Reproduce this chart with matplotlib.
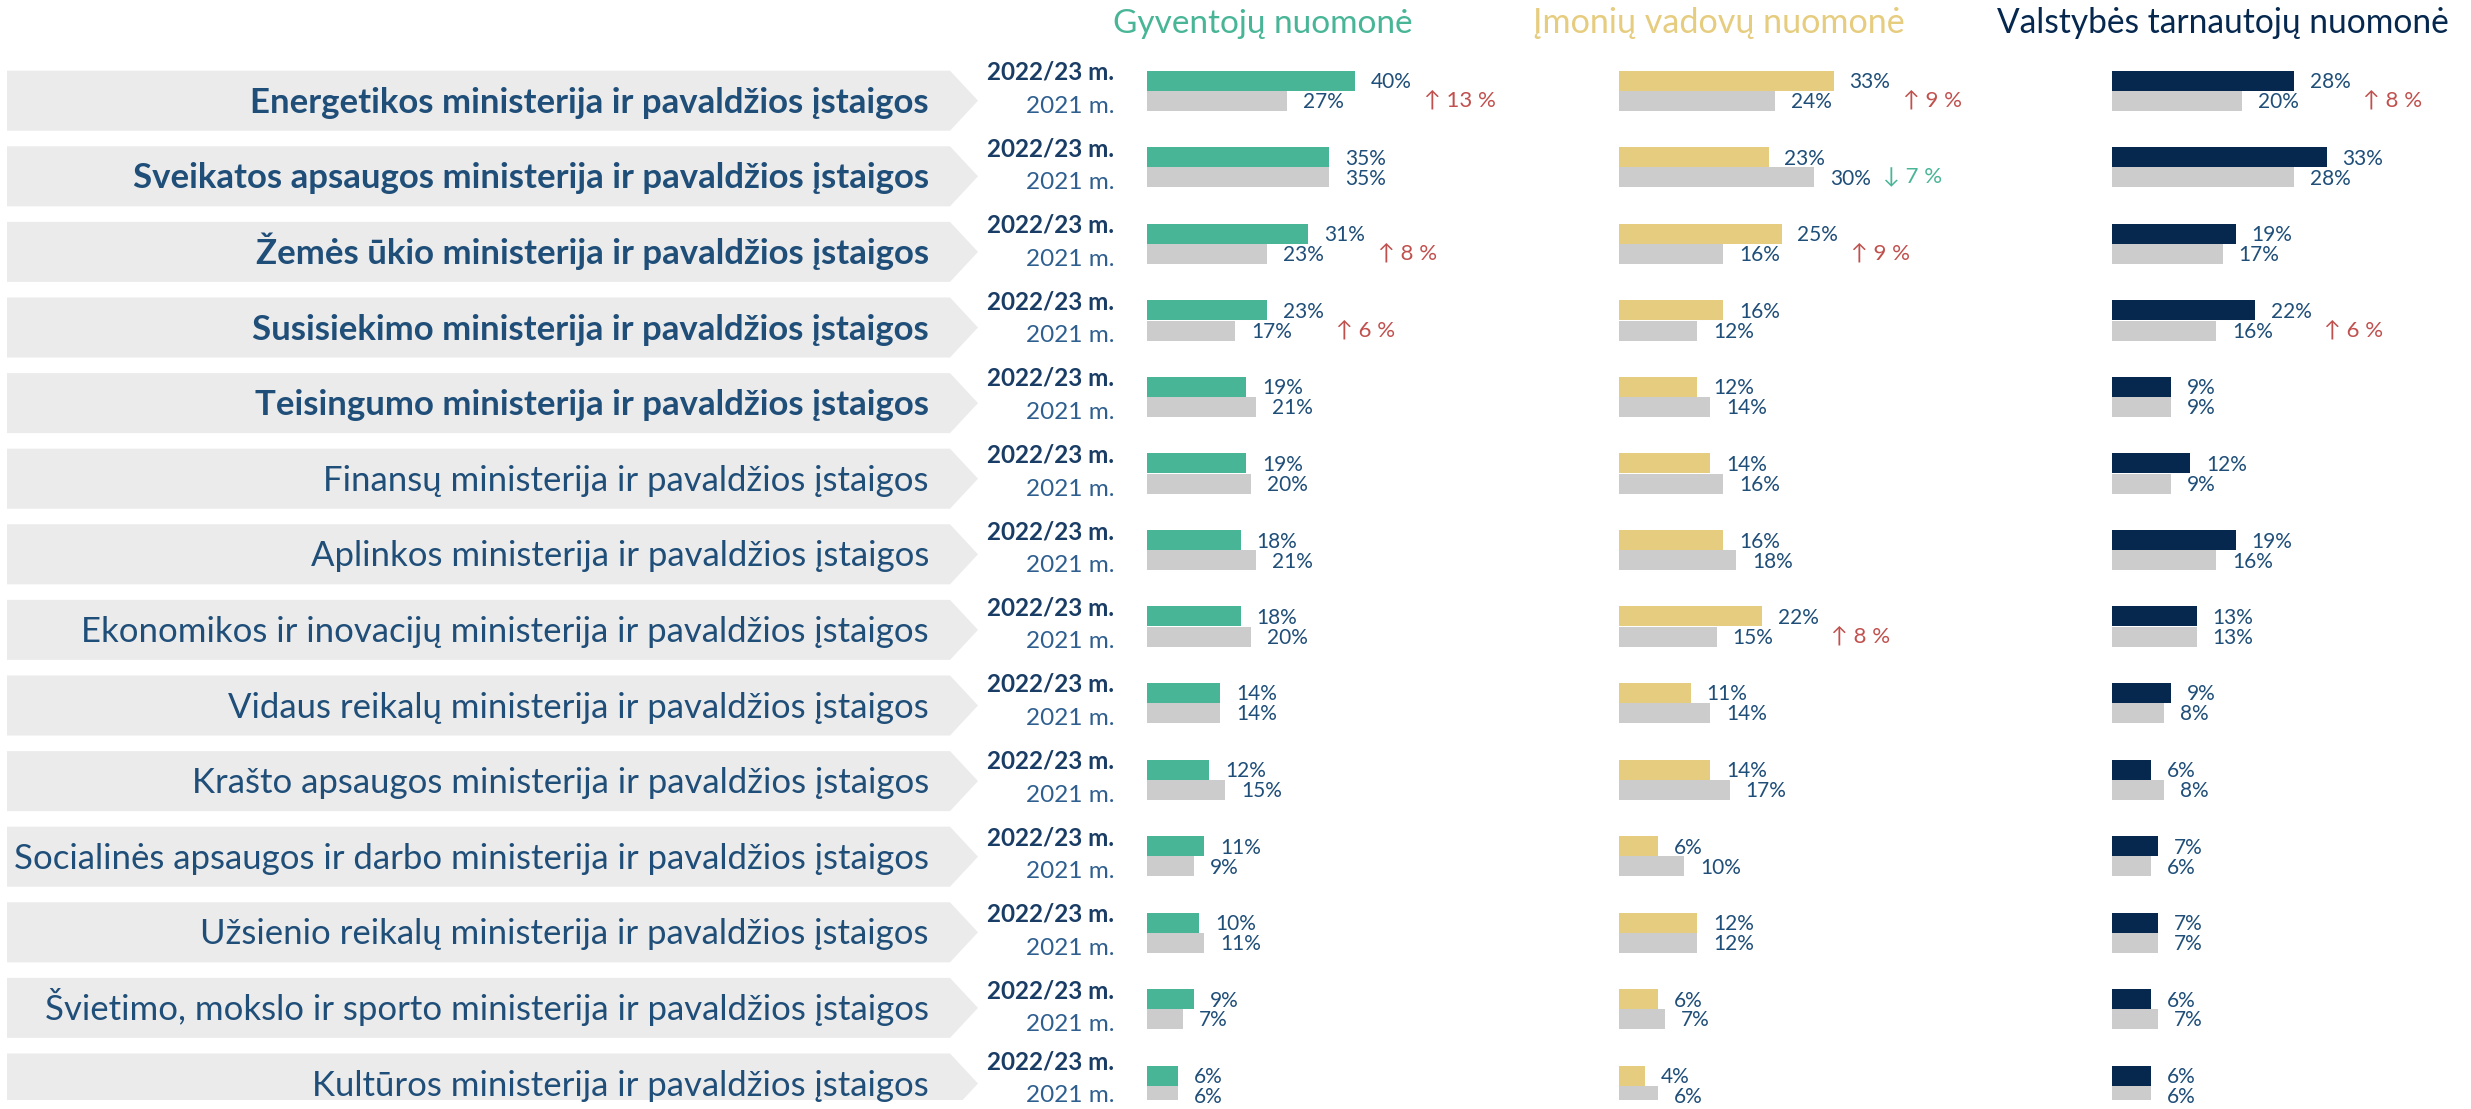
import matplotlib
matplotlib.use("Agg")
import matplotlib.pyplot as plt
from matplotlib.patches import Polygon
import numpy as np

plt.rcParams['font.family'] = ['Lato', 'DejaVu Sans']

# ---------------- data ----------------
categories = [
    "Energetikos ministerija ir pavaldžios įstaigos",
    "Sveikatos apsaugos ministerija ir pavaldžios įstaigos",
    "Žemės ūkio ministerija ir pavaldžios įstaigos",
    "Susisiekimo ministerija ir pavaldžios įstaigos",
    "Teisingumo ministerija ir pavaldžios įstaigos",
    "Finansų ministerija ir pavaldžios įstaigos",
    "Aplinkos ministerija ir pavaldžios įstaigos",
    "Ekonomikos ir inovacijų ministerija ir pavaldžios įstaigos",
    "Vidaus reikalų ministerija ir pavaldžios įstaigos",
    "Krašto apsaugos ministerija ir pavaldžios įstaigos",
    "Socialinės apsaugos ir darbo ministerija ir pavaldžios įstaigos",
    "Užsienio reikalų ministerija ir pavaldžios įstaigos",
    "Švietimo, mokslo ir sporto ministerija ir pavaldžios įstaigos",
    "Kultūros ministerija ir pavaldžios įstaigos",
]
bold_count = 5
year_labels = ["2022/23 m.", "2021 m."]
titles = ["Gyventojų nuomonė", "Įmonių vadovų nuomonė", "Valstybės tarnautojų nuomonė"]

gyv_2023 = [40, 35, 31, 23, 19, 19, 18, 18, 14, 12, 11, 10, 9, 6]
gyv_2021 = [27, 35, 23, 17, 21, 20, 21, 20, 14, 15, 9, 11, 7, 6]
imon_2023 = [33, 23, 25, 16, 12, 14, 16, 22, 11, 14, 6, 12, 6, 4]
imon_2021 = [24, 30, 16, 12, 14, 16, 18, 15, 14, 17, 10, 12, 7, 6]
vals_2023 = [28, 33, 19, 22, 9, 12, 19, 13, 9, 6, 7, 7, 6, 6]
vals_2021 = [20, 28, 17, 16, 9, 9, 16, 13, 8, 8, 6, 7, 7, 6]

change_gyv = {0: 13, 2: 8, 3: 6}
change_imon = {0: 9, 1: -7, 2: 9, 7: 8}
change_vals = {0: 8, 3: 6}

# ---------------- style ----------------
W, H = 2471, 1109
C_GREEN = "#48b596"
C_YELLOW = "#e6cc7e"
C_NAVY = "#06284f"
C_GRAY = "#cccccc"
C_BOX = "#ebebeb"
C_TEXT = "#1f4e79"
C_YEAR1 = "#1a3d66"
C_YEAR2 = "#2f5f8f"
C_UP = "#c0504d"

fig = plt.figure(figsize=(W / 100, H / 100), dpi=100)
renderer = fig.canvas.get_renderer()


def fit(t, target):
    w = t.get_window_extent(renderer).width
    t.set_fontsize(t.get_fontsize() * target / w)
    return t.get_fontsize()


# vertical mapping (pixels from top)
AX_TOP, AX_BOT = 40, 1100
BAR0, BAR_PITCH = 91, 76.5
BOX0, BOX_PITCH = 100.7, 75.6
n = len(categories)
rows = np.arange(n)
bh = 20 / BAR_PITCH

# ---------------- left label column ----------------
axl = fig.add_axes([0, 1 - AX_BOT / H, 1000 / W, (AX_BOT - AX_TOP) / H])
axl.set_xlim(0, 1000)
axl.set_ylim((AX_BOT - BOX0) / BOX_PITCH, (AX_TOP - BOX0) / BOX_PITCH)
axl.axis("off")
hh = 30 / BOX_PITCH
cat_texts = []
for j, name in enumerate(categories):
    poly = Polygon([(7, j - hh), (950, j - hh), (978, j), (950, j + hh), (7, j + hh)],
                   closed=True, facecolor=C_BOX, edgecolor="none")
    axl.add_patch(poly)
    t = axl.text(929, j + 12 / BOX_PITCH, name, ha="right", va="baseline",
                 fontsize=28, color=C_TEXT,
                 fontweight="bold" if j < bold_count else "normal")
    cat_texts.append(t)

fs_reg = fit(cat_texts[10], 914)
fs_bold = fit(cat_texts[1], 797)
for j, t in enumerate(cat_texts):
    t.set_fontsize(fs_bold if j < bold_count else fs_reg)

# ---------------- bar panels ----------------
panels = [
    (1147, 50, gyv_2023, gyv_2021, C_GREEN, change_gyv),
    (1619, 40, imon_2023, imon_2021, C_YELLOW, change_imon),
    (2112, 40, vals_2023, vals_2021, C_NAVY, change_vals),
]
axes = []
for left, xmax, v23, v21, col, changes in panels:
    ax = fig.add_axes([left / W, 1 - AX_BOT / H, 260 / W, (AX_BOT - AX_TOP) / H])
    ax.set_xlim(0, xmax)
    ax.set_ylim((AX_BOT - BAR0) / BAR_PITCH, (AX_TOP - BAR0) / BAR_PITCH)
    ax.axis("off")
    ax.barh(rows - bh / 2, v23, height=bh, color=col, edgecolor="none")
    ax.barh(rows + bh / 2, v21, height=bh, color=C_GRAY, edgecolor="none")
    for i in rows:
        ax.annotate(f"{v23[i]}%", xy=(v23[i], i - bh / 2), xytext=(11.5, -5.4),
                    textcoords="offset points", ha="left", va="baseline",
                    fontsize=15, color=C_TEXT, annotation_clip=False)
        ax.annotate(f"{v21[i]}%", xy=(v21[i], i + bh / 2), xytext=(11.5, -5.4),
                    textcoords="offset points", ha="left", va="baseline",
                    fontsize=15, color=C_TEXT, annotation_clip=False)
    for i, d in changes.items():
        arrow = "↑" if d > 0 else "↓"
        ax.annotate(f"{arrow} {abs(d)} %", xy=(max(v23[i], v21[i]), i),
                    xytext=(50, -11.5), textcoords="offset points",
                    ha="left", va="baseline", fontsize=16,
                    color=C_UP if d > 0 else C_GREEN, annotation_clip=False)
    axes.append(ax)

# year labels next to the first panel (baselines in px relative to bar-pair centre)
axg = axes[0]
for i in rows:
    cpx = BAR0 + i * BAR_PITCH
    b1 = min(cpx - 11, 1070)
    b2 = min(cpx + 22, 1102)
    axg.annotate(year_labels[0], xy=(0, (b1 - BAR0) / BAR_PITCH), xytext=(-23.5, 0),
                 textcoords="offset points", ha="right", va="baseline",
                 fontsize=17.5, fontweight="bold", color=C_YEAR1,
                 annotation_clip=False)
    axg.annotate(year_labels[1], xy=(0, (b2 - BAR0) / BAR_PITCH), xytext=(-23.5, 0),
                 textcoords="offset points", ha="right", va="baseline",
                 fontsize=17.5, color=C_YEAR2, annotation_clip=False)

# ---------------- titles ----------------
title_specs = [(1113, 1412, C_GREEN), (1533, 1904, C_YELLOW), (1998, 2448, C_NAVY)]
for (x0, x1, col), ttl in zip(title_specs, titles):
    t = fig.text((x0 + x1) / 2 / W, 1 - 33 / H, ttl, ha="center", va="baseline",
                 fontsize=22, color=col)
    fit(t, x1 - x0)

fig.savefig("out.png", dpi=100, facecolor="white")
